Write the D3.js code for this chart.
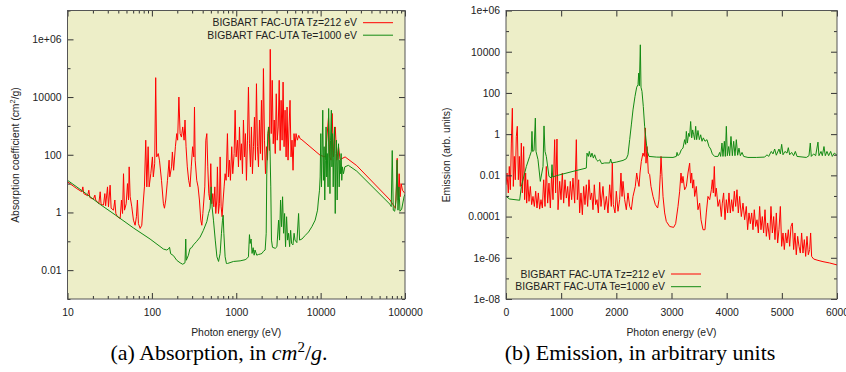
<!DOCTYPE html>
<html>
<head>
<meta charset="utf-8">
<script src="https://cdn.jsdelivr.net/npm/d3@7"></script>
<style>
  body { margin: 0; background: #fff; }
  svg text { font-family: "Liberation Sans", Arial, sans-serif; fill: #222; }
</style>
</head>
<body>
<svg id="chart" width="846" height="372"></svg>
<script>
// ---- data: [photon energy (eV), value] ----
const seriesNames = ["BIGBART FAC-UTA Tz=212 eV", "BIGBART FAC-UTA Te=1000 eV"]

// (a) absorption coefficient, cm^2/g
const absTz = [[10,11.5],[12.9,6.7],[14.8,5.2],[15.2,7.7],[15.6,4.5],[17.3,3.8],[17.9,5.9],[18.4,3.3],[20.3,2.9],[21.1,4.0],[21.6,2.7],[23.5,2.0],[24.4,5.2],[25.0,1.9],[26.7,1.8],[27.7,4.5],[28.3,1.7],[29.8,7.7],[30.6,1.57],[32.0,8.8],[32.9,1.4],[35.1,1.2],[36.4,2.7],[37.4,0.92],[39.1,0.71],[42.1,0.62],[43.6,2.7],[44.9,0.92],[46.1,22],[47.4,1.2],[49.6,2.0],[51.4,10],[52.9,2.7],[53.8,38],[55.3,3.5],[57.8,1.57],[60.5,0.54],[63.3,0.36],[65.6,0.71],[67.4,2.7],[69.3,0.41],[72.6,0.28],[75.9,0.36],[79.4,2.7],[81.6,7.7],[84.6,320],[87.1,7.7],[90.3,190],[92.8,7.7],[97.1,22],[101.5,84],[104,17],[108,49],[111,47000],[114,84],[119,110],[123,65],[130,13],[137,2.0],[141,1.4],[146,2.7],[153,13],[160,65],[163,17],[171,38],[175,125],[181,29],[190,190],[197,540],[202,320],[209,10000],[216,540],[224,410],[232,920],[241,320],[247,1600],[254,190],[263,38],[273,13],[283,7.7],[293,38],[304,190],[314,84],[320,4500],[326,65],[340,13],[353,7.7],[366,2.7],[380,0.54],[391,0.36],[402,0.92],[413,2.7],[424,7.7],[436,320],[448,540],[460,38],[473,4.5],[486,2.7],[499,49],[513,2.0],[527,4.5],[542,1.57],[557,7.7],[572,0.92],[588,2.7],[598,38],[615,0.92],[632,2.0],[644,84],[662,1.57],[680,0.71],[699,2.7],[718,7.7],[738,22],[758,13],[786,540],[807,17],[830,65],[853,13],[884,190],[909,22],[944,110],[970,3500],[997,84],[1034,320],[1062,38],[1092,920],[1122,65],[1153,240],[1185,22],[1217,1600],[1251,84],[1286,540],[1321,13],[1358,320],[1395,22000],[1434,240],[1473,38],[1514,920],[1556,22],[1600,190],[1644,2000],[1689,65],[1736,29000],[1784,190],[1834,38],[1884,1600],[1936,110],[1990,7700],[2045,65],[2100,97000],[2160,320],[2220,22],[2280,190],[2345,65],[2410,920],[2475,140],[2530,450000],[2600,540],[2670,38000],[2745,240],[2820,1600],[2900,110],[2980,13000],[3060,320],[3145,920],[3230,38000],[3310,140],[3400,7700],[3495,320],[3590,33000],[3690,190],[3790,3500],[3900,84],[4000,4500],[4110,65],[4225,920],[4340,7700],[4460,84],[4580,320],[4710,29],[4840,540],[4970,190],[5110,540],[5300,320],[5500,470],[5720,360],[6000,330],[9870,96],[11300,84],[11800,320],[12400,2000],[12800,84],[13300,65],[13700,2700],[14200,84],[14900,920],[15600,65],[16300,190],[17000,68],[19500,84],[26800,42],[66500,2.7],[71800,1.9],[74900,1.6],[77000,1.4],[79100,7.7],[80800,75],[83100,2.7],[85300,22],[87600,3.5],[90000,10],[93300,5.9],[100000,4.5]]

const absTe = [[10,13],[15.5,5.2],[24.4,1.9],[38.5,0.75],[60.5,0.29],[95.2,0.12],[137,0.054],[150,0.05],[157,0.054],[162,0.062],[167,0.037],[180,0.032],[197,0.022],[216,0.018],[232,0.016],[247,0.018],[252,0.12],[256,0.022],[271,0.033],[283,0.056],[296,0.06],[311,0.075],[340,0.1],[373,0.14],[408,0.24],[448,0.48],[469,0.92],[490,1.4],[504,7.7],[517,1.57],[537,0.54],[564,0.11],[590,0.029],[617,0.02],[644,0.038],[668,0.19],[687,0.54],[700,0.8],[713,0.19],[738,0.029],[765,0.017],[786,0.017],[927,0.02],[1112,0.021],[1275,0.023],[1334,0.025],[1395,0.029],[1434,0.17],[1460,0.084],[1500,0.12],[1540,0.038],[1585,0.06],[1630,0.033],[1670,0.05],[1750,0.033],[1834,0.035],[1919,0.036],[2020,0.038],[2100,0.045],[2200,0.05],[2265,0.19],[2300,22],[2365,540],[2430,920],[2500,320],[2565,7.7],[2615,0.11],[2690,0.062],[2900,0.057],[3035,0.065],[3175,0.54],[3260,0.11],[3350,2.7],[3445,0.32],[3540,3.5],[3640,0.19],[3740,0.92],[3840,0.065],[3950,0.71],[4060,0.11],[4170,0.19],[4290,0.065],[4410,0.24],[4530,0.084],[4700,0.075],[4850,0.19],[4970,0.11],[5230,0.09],[5480,0.92],[5630,0.11],[6000,0.12],[6570,0.16],[7190,0.21],[7870,0.32],[8610,0.54],[9190,1.2],[9420,2.7],[9700,5.9],[9870,17],[10050,540],[10230,7.7],[10400,84],[10600,3500],[10800,13],[11000,190],[11200,2.7],[11400,65],[11600,920],[11800,17],[12000,110],[12250,7.7],[12450,4000],[12700,84],[12900,4.5],[13100,320],[13400,3500],[13600,38],[13850,540],[14100,7.7],[14350,140],[14600,920],[14900,0.92],[15150,110],[15400,320],[15700,2.7],[16000,84],[16300,240],[16600,7.7],[16900,65],[17200,22],[17500,110],[17800,13],[18150,38],[18650,22],[19350,38],[21300,43],[26800,27],[66600,1.9],[68700,1.6],[70600,140],[72600,1.2],[75500,1.1],[78300,2.7],[80400,65],[82600,1.2],[84800,7.7],[87100,1.1],[91300,1.3],[97400,3.5],[100000,4.3]]

// (b) emission, arbitrary units
const emiTz = [[0,3.5e-3],[18,0.013],[42,1.4e-3],[60,0.027],[79,2.0e-3],[97,0.37],[115,18],[133,2.9e-3],[151,0.083],[169,6.1e-3],[187,0.77],[205,2.4],[224,6.1e-3],[242,0.083],[260,2.9e-3],[278,0.37],[296,1.4e-3],[320,0.25],[338,6.6e-4],[356,0.013],[375,4.5e-4],[393,6.1e-3],[417,5.5e-4],[441,2.9e-3],[465,3.8e-4],[489,9.5e-4],[514,3.1e-4],[538,1.7e-3],[562,2.6e-4],[586,1.4e-3],[610,2.3e-4],[634,6.6e-4],[659,2.6e-4],[683,6.1e-3],[707,3.1e-4],[731,0.027],[755,4.5e-4],[779,4.2e-3],[804,2.6e-4],[828,0.013],[852,6.6e-4],[882,0.54],[900,1.4e-3],[924,0.58],[943,2.15e-4],[973,5.1e-3],[997,6.6e-4],[1021,0.013],[1045,4.5e-4],[1069,6.1e-3],[1094,7.9e-4],[1118,2.9e-3],[1142,3.1e-4],[1166,5.1e-3],[1190,6.6e-4],[1214,7.4e-3],[1245,4.5e-4],[1275,0.54],[1293,6.6e-4],[1317,6.1e-3],[1335,1.5e-4],[1359,1.4e-3],[1384,1.23e-4],[1408,2.9e-3],[1432,3.8e-4],[1456,3.5e-3],[1480,3.1e-4],[1504,6.1e-3],[1529,6.6e-4],[1553,1.4e-3],[1577,2.15e-4],[1601,3.5e-3],[1625,3.8e-4],[1649,6.6e-4],[1674,1.5e-4],[1698,4.6e-3],[1722,3.1e-4],[1758,2.9e-3],[1788,2.15e-4],[1819,9.5e-4],[1849,1.5e-4],[1879,3.5e-3],[1909,3.1e-4],[1927,0.039],[1945,3.8e-4],[1976,1.5e-4],[2000,1.7e-3],[2030,1.8e-4],[2060,6.6e-4],[2084,0.013],[2103,9.5e-4],[2121,5.1e-3],[2151,6.6e-4],[2181,2.15e-4],[2211,1.4e-3],[2242,3.1e-4],[2272,2.15e-4],[2302,9.5e-4],[2344,2.9e-3],[2369,0.013],[2387,6.1e-3],[2411,2.9e-3],[2429,0.013],[2453,0.048],[2483,0.12],[2507,0.083],[2525,2.0],[2538,0.039],[2556,0.25],[2580,0.013],[2604,0.011],[2628,2.9e-3],[2665,9.5e-4],[2707,3.8e-4],[2749,2.6e-4],[2773,6.6e-4],[2797,0.011],[2810,0.083],[2828,8.9e-3],[2846,9.5e-4],[2876,1.5e-4],[2906,5.8e-5],[2967,3.3e-5],[3039,3.0e-5],[3075,4.5e-5],[3118,3.1e-4],[3148,1.7e-3],[3172,0.013],[3190,4.2e-3],[3208,8.9e-3],[3238,2.0e-3],[3269,2.9e-3],[3299,0.013],[3329,0.039],[3347,4.2e-3],[3366,0.013],[3384,2.4e-3],[3402,6.1e-3],[3420,9.5e-4],[3450,2.9e-3],[3480,2.15e-4],[3510,4.5e-4],[3535,7.0e-5],[3571,2.3e-5],[3607,2.3e-5],[3631,1.5e-4],[3661,9.5e-4],[3692,6.6e-4],[3722,2.0e-3],[3740,6.1e-3],[3758,1.4e-3],[3776,0.027],[3794,9.5e-4],[3812,2.4e-3],[3843,3.1e-4],[3873,6.6e-4],[3903,1.0e-4],[3921,4.5e-4],[3945,1.4e-3],[3970,7.0e-5],[3994,6.6e-4],[4018,1.5e-4],[4042,1.4e-3],[4066,1.5e-4],[4090,6.6e-4],[4115,1.8e-4],[4139,1.7e-3],[4163,3.1e-4],[4187,2.0e-3],[4211,1.5e-4],[4235,9.5e-4],[4266,1.0e-4],[4296,4.5e-4],[4326,7.0e-5],[4356,3.1e-4],[4380,2.3e-5],[4405,1.5e-4],[4429,4.5e-5],[4453,1.5e-4],[4477,2.3e-5],[4501,2.15e-4],[4525,3.3e-5],[4550,7.0e-5],[4574,1.6e-5],[4598,3.1e-4],[4622,2.3e-5],[4646,1.0e-4],[4670,1.6e-5],[4695,2.15e-4],[4719,1.1e-5],[4743,4.9e-5],[4779,7.6e-6],[4803,3.1e-4],[4828,1.6e-5],[4852,1.0e-4],[4876,7.6e-6],[4900,1.5e-4],[4924,5.2e-6],[4948,2.3e-5],[4973,3.1e-4],[4997,3.6e-6],[5021,1.6e-5],[5045,2.5e-6],[5069,1.6e-5],[5093,5.2e-6],[5118,2.3e-5],[5142,3.6e-6],[5166,3.3e-5],[5190,4.9e-5],[5214,2.5e-6],[5238,1.6e-5],[5262,1.4e-6],[5287,1.1e-5],[5311,3.6e-6],[5335,1.7e-6],[5359,1.6e-5],[5383,1.7e-6],[5408,7.6e-6],[5432,1.17e-6],[5456,1.1e-5],[5480,1.4e-6],[5504,2.5e-6],[5522,1.6e-5],[5540,1.17e-6],[5577,8.7e-7],[5655,7.5e-7],[5746,6.5e-7],[5867,5.6e-7],[6000,4.5e-7]]

const emiTe = [[0,9.5e-4],[66,7.1e-4],[248,6.2e-4],[278,2.9e-3],[369,0.027],[429,0.083],[459,0.145],[471,1.36],[483,0.145],[508,0.16],[532,6.0],[544,0.145],[580,0.058],[622,5.1e-3],[671,0.027],[689,2.5],[707,0.145],[731,0.083],[779,8.9e-3],[822,7.4e-3],[834,0.033],[846,8.3e-3],[912,9.6e-3],[1214,0.0156],[1456,0.0226],[1468,0.12],[1492,0.083],[1510,0.145],[1535,0.077],[1559,0.12],[1583,0.069],[1607,0.1],[1637,0.058],[1668,0.048],[1698,0.058],[1734,0.037],[1788,0.04],[1879,0.04],[1897,0.062],[1915,0.04],[2000,0.044],[2121,0.053],[2181,0.064],[2211,0.1],[2242,0.54],[2272,2.8],[2302,15],[2338,67],[2369,190],[2393,250],[2405,915],[2417,220],[2435,21600],[2447,190],[2465,118],[2489,22],[2513,2.4],[2544,0.37],[2562,0.145],[2592,0.083],[2725,0.077],[3027,0.074],[3087,0.083],[3100,0.13],[3118,0.09],[3148,0.11],[3178,0.175],[3208,0.21],[3238,0.54],[3257,0.32],[3269,1.36],[3287,0.37],[3311,1.1],[3329,0.77],[3347,4.1],[3366,0.66],[3384,1.6],[3402,0.93],[3420,0.54],[3438,2.4],[3456,0.54],[3480,1.5],[3505,0.54],[3529,0.93],[3553,0.45],[3577,0.66],[3607,0.45],[3643,0.54],[3680,0.25],[3710,0.19],[3740,0.11],[3782,0.083],[3843,0.083],[3873,0.13],[3891,0.083],[3915,0.37],[3933,0.083],[3958,0.45],[3976,0.083],[3994,2.4],[4012,0.09],[4036,0.25],[4054,0.09],[4078,0.77],[4103,0.09],[4127,0.45],[4151,0.09],[4175,0.54],[4199,0.095],[4223,0.21],[4248,0.09],[4278,0.13],[4308,0.083],[4386,0.074],[4537,0.074],[4689,0.077],[4731,0.1],[4761,0.083],[4809,0.145],[4840,0.11],[4870,0.19],[4900,0.095],[4948,0.19],[4973,0.11],[4997,0.32],[5021,0.1],[5057,0.145],[5094,0.12],[5118,0.22],[5142,0.1],[5178,0.13],[5214,0.09],[5245,0.145],[5275,0.083],[5444,0.074],[5492,0.09],[5516,0.37],[5534,0.083],[5577,0.11],[5613,0.09],[5655,0.41],[5673,0.09],[5710,0.145],[5734,0.09],[5764,0.25],[5788,0.09],[5818,0.145],[5849,0.09],[5885,0.145],[5915,0.083],[5951,0.12],[6000,0.095]]

// tick values and labels
const absXTicks = [10, 100, 1000, 10000, 100000]
const absYTicks = [0.01, 1, 100, 10000, 1e6]
const absYLabels = ["0.01", "1", "100", "10000", "1e+06"]
const emiXTicks = [0, 1000, 2000, 3000, 4000, 5000, 6000]
const emiYTicks = [1e-8, 1e-6, 1e-4, 0.01, 1, 100, 10000, 1e6]
const emiYLabels = ["1e-08", "1e-06", "0.0001", "0.01", "1", "100", "10000", "1e+06"]

const plotBg = "#edeec8"
const red = "#ff0000"
const green = "#138a13"
const fs = 10.4

const svg = d3.select("#chart")

function styleAxis(g) {
  g.select(".domain").remove()
  g.selectAll("line").attr("stroke", "#333")
  g.selectAll("text").attr("font-size", fs).attr("fill", "#222")
}

function drawPanel(p) {
  const x = p.x, y = p.y
  const [x0, x1] = x.range()
  const [yb, yt] = y.range()
  const g = svg.append("g")

  g.append("rect").attr("x", x0).attr("y", yt).attr("width", x1 - x0).attr("height", yb - yt)
   .attr("fill", plotBg)

  g.append("clipPath").attr("id", "clip-" + p.id)
   .append("rect").attr("x", x0).attr("y", yt).attr("width", x1 - x0).attr("height", yb - yt)

  const line = d3.line().x(d => x(d[0])).y(d => y(d[1]))
  p.series.forEach(s => {
    g.append("path").datum(s.data)
     .attr("clip-path", `url(#clip-${p.id})`)
     .attr("fill", "none").attr("stroke", s.color).attr("stroke-width", 1)
     .attr("stroke-linejoin", "round")
     .attr("d", line)
  })

  // minor y ticks at odd decades
  const [lo, hi] = y.domain().map(v => Math.round(Math.log10(v)))
  const yMinor = d3.range(lo, hi + 1).filter(e => e % 2 !== 0).map(e => Math.pow(10, e))

  g.append("g").attr("transform", `translate(0,${yb})`)
   .call(d3.axisBottom(x).tickValues(p.xTicks).tickFormat(p.xFormat).tickSize(-6).tickPadding(10))
   .call(styleAxis)
  g.append("g").attr("transform", `translate(0,${yt})`)
   .call(d3.axisTop(x).tickValues(p.xTicks).tickFormat("").tickSize(-6))
   .call(styleAxis)
  if (p.xMinor) {
    g.append("g").attr("transform", `translate(0,${yb})`)
     .call(d3.axisBottom(x).tickValues(p.xMinor).tickFormat("").tickSize(-3)).call(styleAxis)
    g.append("g").attr("transform", `translate(0,${yt})`)
     .call(d3.axisTop(x).tickValues(p.xMinor).tickFormat("").tickSize(-3)).call(styleAxis)
  }
  g.append("g").attr("transform", `translate(${x0},0)`)
   .call(d3.axisLeft(y).tickValues(p.yTicks).tickFormat((d, i) => p.yLabels[i]).tickSize(-6).tickPadding(6))
   .call(styleAxis)
  g.append("g").attr("transform", `translate(${x1},0)`)
   .call(d3.axisRight(y).tickValues(p.yTicks).tickFormat("").tickSize(-6))
   .call(styleAxis)
  g.append("g").attr("transform", `translate(${x0},0)`)
   .call(d3.axisLeft(y).tickValues(yMinor).tickFormat("").tickSize(-3)).call(styleAxis)
  g.append("g").attr("transform", `translate(${x1},0)`)
   .call(d3.axisRight(y).tickValues(yMinor).tickFormat("").tickSize(-3)).call(styleAxis)

  g.append("rect").attr("x", x0).attr("y", yt).attr("width", x1 - x0).attr("height", yb - yt)
   .attr("fill", "none").attr("stroke", "#555").attr("stroke-width", 1)

  // axis titles
  g.append("text").attr("x", (x0 + x1) / 2).attr("y", 335.5).attr("text-anchor", "middle")
   .attr("font-size", fs).text("Photon energy (eV)")
  const yt2 = g.append("text").attr("transform", `translate(${p.yTitleX},155) rotate(-90)`)
   .attr("text-anchor", "middle").attr("font-size", fs)
  p.yTitle(yt2)

  // legend
  p.series.forEach((s, i) => {
    const ly = p.legend.y + i * p.legend.dy
    g.append("text").attr("x", p.legend.x).attr("y", ly).attr("dy", "0.35em")
     .attr("text-anchor", "end").attr("font-size", fs).text(s.name)
    g.append("line").attr("x1", p.legend.x + 6).attr("x2", p.legend.x + 36)
     .attr("y1", ly).attr("y2", ly).attr("stroke", s.color).attr("stroke-width", 1)
  })
}

const xAbs = d3.scaleLog().domain([10, 100000]).range([67.5, 405])
const xMinorAbs = xAbs.ticks().filter(v => !absXTicks.includes(v))

drawPanel({
  id: "abs",
  x: xAbs,
  y: d3.scaleLog().domain([1e-3, 1e7]).range([299, 10.5]),
  xTicks: absXTicks, xFormat: d3.format("d"), xMinor: xMinorAbs,
  yTicks: absYTicks, yLabels: absYLabels,
  yTitleX: 19,
  yTitle: t => {
    t.append("tspan").text("Absorption coefficient (cm")
    t.append("tspan").attr("dy", -4).attr("font-size", 7.5).text("2")
    t.append("tspan").attr("dy", 4).text("/g)")
  },
  legend: { x: 357, y: 22.7, dy: 12.5 },
  series: [
    { name: seriesNames[0], data: absTz, color: red },
    { name: seriesNames[1], data: absTe, color: green }
  ]
})

drawPanel({
  id: "emi",
  x: d3.scaleLinear().domain([0, 6000]).range([506, 837]),
  y: d3.scaleLog().domain([1e-8, 1e6]).range([299, 10.5]),
  xTicks: emiXTicks, xFormat: d3.format("d"), xMinor: null,
  yTicks: emiYTicks, yLabels: emiYLabels,
  yTitleX: 450,
  yTitle: t => t.text("Emission (arb. units)"),
  legend: { x: 665, y: 274, dy: 12.7 },
  series: [
    { name: seriesNames[0], data: emiTz, color: red },
    { name: seriesNames[1], data: emiTe, color: green }
  ]
})

// sub-figure captions (serif, like the paper)
const capFont = '"Liberation Serif", "Times New Roman", serif'
const capA = svg.append("text").attr("x", 219).attr("y", 360).attr("text-anchor", "middle")
  .style("font-family", capFont).style("fill", "#000").attr("font-size", 22)
capA.append("tspan").text("(a) Absorption, in ")
capA.append("tspan").attr("font-style", "italic").text("cm")
capA.append("tspan").attr("dy", -8).attr("font-size", 15).text("2")
capA.append("tspan").attr("dy", 8).text("/")
capA.append("tspan").attr("font-style", "italic").text("g")
capA.append("tspan").text(".")

svg.append("text").attr("x", 640).attr("y", 360).attr("text-anchor", "middle")
  .style("font-family", capFont).style("fill", "#000").attr("font-size", 22)
  .text("(b) Emission, in arbitrary units")
</script>
</body>
</html>
